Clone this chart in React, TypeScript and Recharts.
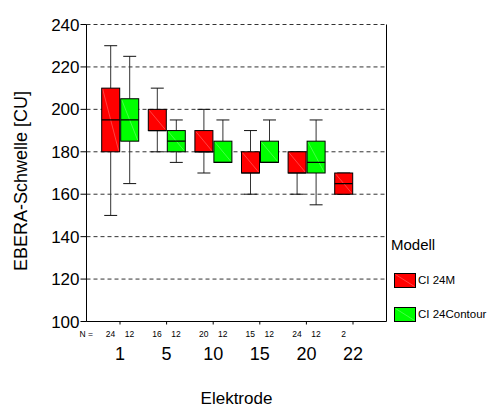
import React from 'react';
import { ComposedChart, Bar, Line, XAxis, YAxis, CartesianGrid, Legend } from 'recharts';

const FONT = '"Liberation Sans", Arial, sans-serif';

const categories = ['1', '5', '10', '15', '20', '22'];

const redMin = [150, 180, 170, 160, 160, 160];
const redQ1 = [180, 190, 180, 170, 170, 160];
const redMedian = [195, 190, 180, 170, 170, 165];
const redQ3 = [210, 200, 190, 180, 180, 170];
const redMax = [230, 210, 200, 190, 180, 170];
const redN = [24, 16, 20, 15, 24, 2];

const greenMin: (number | null)[] = [165, 175, 175, 175, 155, null];
const greenQ1: (number | null)[] = [185, 180, 175, 175, 170, null];
const greenMedian: (number | null)[] = [195, 185, 175, 175, 175, null];
const greenQ3: (number | null)[] = [205, 190, 185, 185, 185, null];
const greenMax: (number | null)[] = [225, 195, 195, 195, 195, null];
const greenN: (number | null)[] = [12, 12, 12, 12, 12, null];

const yTicks = [100, 120, 140, 160, 180, 200, 220, 240];
const seriesNames = ['CI 24M', 'CI 24Contour'];
const seriesColors = ['#ff0000', '#00ff00'];
const diagColors = ['#ff7070', '#70ff70'];
const xLabel = 'Elektrode';
const yLabel = 'EBERA-Schwelle [CU]';
const legendTitle = 'Modell';

type Stats = { min: number; q1: number; med: number; q3: number; max: number };

const data = categories.map((c, i) => ({
  cat: c,
  red: { min: redMin[i], q1: redQ1[i], med: redMedian[i], q3: redQ3[i], max: redMax[i] } as Stats,
  green:
    greenMin[i] == null
      ? null
      : ({ min: greenMin[i], q1: greenQ1[i], med: greenMedian[i], q3: greenQ3[i], max: greenMax[i] } as Stats),
  redRange: [redMin[i], redMax[i]],
  greenRange: greenMin[i] == null ? null : [greenMin[i], greenMax[i]],
}));

const BAR_SIZE = 18;
const BAR_GAP = 1;

function makeBox(key: 'red' | 'green', fill: string, diag: string) {
  return (props: any) => {
    const { x, y, width, height, payload } = props;
    const s: Stats | null = payload ? payload[key] : null;
    if (!s || y == null || height == null || isNaN(y) || isNaN(height)) return <g />;
    const top = Math.min(y, y + height);
    const h = Math.abs(height);
    const span = s.max - s.min;
    const ppu = span > 0 ? h / span : 0;
    const py = (v: number) => top + (s.max - v) * ppu;
    const cx = x + width / 2;
    const capW = width * 0.72;
    const yMax = py(s.max);
    const yQ3 = py(s.q3);
    const yQ1 = py(s.q1);
    const yMin = py(s.min);
    const yMed = py(s.med);
    return (
      <g>
        <line x1={cx} x2={cx} y1={yMax} y2={yQ3} stroke="#333" strokeWidth={1} />
        <line x1={cx} x2={cx} y1={yQ1} y2={yMin} stroke="#333" strokeWidth={1} />
        <line x1={cx - capW / 2} x2={cx + capW / 2} y1={yMax} y2={yMax} stroke="#111" strokeWidth={1} />
        <line x1={cx - capW / 2} x2={cx + capW / 2} y1={yMin} y2={yMin} stroke="#111" strokeWidth={1} />
        <rect x={x} y={yQ3} width={width} height={yQ1 - yQ3} fill={fill} stroke="none" />
        <line x1={x + 1} y1={yQ3 + 1} x2={x + width - 1} y2={yQ1 - 1} stroke={diag} strokeWidth={0.6} />
        <rect x={x} y={yQ3} width={width} height={yQ1 - yQ3} fill="none" stroke="#000" strokeWidth={1} />
        <line x1={x} x2={x + width} y1={yMed} y2={yMed} stroke="#000" strokeWidth={1.2} />
      </g>
    );
  };
}

const XTick = (props: any) => {
  const { x, y, payload } = props;
  const i = categories.indexOf(String(payload.value));
  const off = (BAR_SIZE + BAR_GAP) / 2;
  return (
    <g fontFamily={FONT} fill="#000">
      {i === 0 && (
        <text x={x - 27} y={y + 12.2} textAnchor="end" fontSize={8.5} fill="#000">
          N =
        </text>
      )}
      <text x={x - off} y={y + 12.2} textAnchor="middle" fontSize={8.5} fill="#000">
        {redN[i]}
      </text>
      {greenN[i] != null && (
        <text x={x + off} y={y + 12.2} textAnchor="middle" fontSize={8.5} fill="#000">
          {greenN[i]}
        </text>
      )}
      <text x={x} y={y + 35.5} textAnchor="middle" fontSize={18} fill="#000">
        {payload.value}
      </text>
    </g>
  );
};

const LegendContent = (props: any) => {
  const payload = props.payload || [];
  const items = seriesNames
    .map((n) => payload.find((p: any) => p.value === n))
    .filter((p: any) => p);
  return (
    <div style={{ fontFamily: FONT, color: '#000', textAlign: 'left' }}>
      <div style={{ fontSize: 15, height: 17, lineHeight: '17px' }}>{legendTitle}</div>
      {items.map((p: any, i: number) => (
        <div
          key={i}
          style={{ display: 'flex', alignItems: 'center', marginTop: i === 0 ? 20 : 19, marginLeft: 3, height: 15 }}
        >
          <svg width={22} height={15} style={{ display: 'block' }}>
            <rect x={0.5} y={0.5} width={21} height={14} fill={p.color} stroke="#000" />
            <line x1={1.5} y1={1.5} x2={20.5} y2={13.5} stroke={diagColors[i]} strokeWidth={0.6} />
          </svg>
          <span style={{ fontSize: 11.5, marginLeft: 2, lineHeight: '15px' }}>{p.value}</span>
        </div>
      ))}
    </div>
  );
};

const YLabel = (props: any) => {
  const vb = props.viewBox || {};
  const cx = vb.x + 20.5;
  const cy = vb.y + vb.height / 2 + 8;
  return (
    <text
      x={cx}
      y={cy}
      transform={`rotate(-90, ${cx}, ${cy})`}
      textAnchor="middle"
      dominantBaseline="central"
      fontSize={18}
      fontFamily={FONT}
      fill="#000"
    >
      {yLabel}
    </text>
  );
};

const XLabel = (props: any) => {
  const vb = props.viewBox || {};
  return (
    <text x={vb.x + vb.width / 2} y={vb.y + 82} textAnchor="middle" fontSize={17} fontFamily={FONT} fill="#000">
      {xLabel}
    </text>
  );
};

export default function App() {
  return (
    <div style={{ position: 'absolute', left: 0, top: 0, width: 495, height: 407, background: '#fff' }}>
      <ComposedChart
        width={495}
        height={407}
        data={data}
        margin={{ top: 24.5, right: 107.5, bottom: 0, left: 0.5 }}
        barSize={BAR_SIZE}
        barGap={BAR_GAP}
      >
        <CartesianGrid vertical={false} stroke="#333" strokeDasharray="4 3" />
        <XAxis
          dataKey="cat"
          type="category"
          height={85.5}
          padding={{ left: 10.2, right: 10.2 }}
          axisLine={{ stroke: '#000' }}
          tickLine={{ stroke: '#000' }}
          tickSize={3}
          tickMargin={0}
          tick={<XTick />}
          interval={0}
          label={<XLabel />}
        />
        <YAxis
          type="number"
          domain={[100, 240]}
          ticks={yTicks}
          allowDataOverflow
          width={86}
          axisLine={{ stroke: '#000' }}
          tickLine={{ stroke: '#000' }}
          tickSize={6}
          tickMargin={1}
          tick={{ fill: '#000', fontSize: 17, fontFamily: FONT }}
          label={<YLabel />}
        />
        <YAxis
          yAxisId="right"
          orientation="right"
          type="number"
          domain={[100, 240]}
          ticks={yTicks}
          allowDataOverflow
          width={1}
          tick={false}
          tickLine={false}
          axisLine={{ stroke: '#000' }}
        />
        <Legend
          layout="vertical"
          align="center"
          verticalAlign="middle"
          wrapperStyle={{ left: 391, top: 235.5, width: 104 }}
          content={<LegendContent />}
        />
        <Bar
          dataKey="redRange"
          name={seriesNames[0]}
          fill={seriesColors[0]}
          isAnimationActive={false}
          shape={makeBox('red', seriesColors[0], diagColors[0])}
        />
        <Bar
          dataKey="greenRange"
          name={seriesNames[1]}
          fill={seriesColors[1]}
          isAnimationActive={false}
          shape={makeBox('green', seriesColors[1], diagColors[1])}
        />
        <Line
          yAxisId="right"
          dataKey="none"
          stroke="none"
          dot={false}
          legendType="none"
          isAnimationActive={false}
        />
      </ComposedChart>
    </div>
  );
}
